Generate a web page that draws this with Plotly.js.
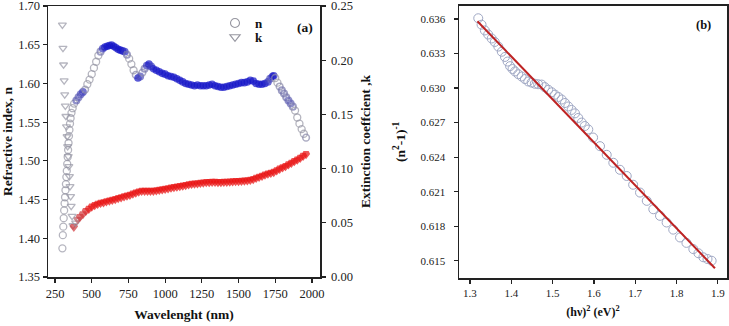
<!DOCTYPE html>
<html>
<head>
<meta charset="utf-8">
<script src="https://cdn.plot.ly/plotly-3.0.1.min.js"></script>
<style>html,body{margin:0;padding:0;background:#fff;}#chart{width:729px;height:326px;}</style>
</head>
<body>
<div id="chart"></div>
<script>
// ---------- Panel (a): refractive index n ----------
const nWavelength = [300,303,306,309,312,315,318,321,324,327,330,333,336,339,342,345,348,352,356,362,370,380,395,410,425,440,455,470,485,500,515,530,545,560,575,590,605,620,635,650,665,680,695,710,725,740,755,770,785,800,815,830,845,860,875,890,905,920,940,960,980,1000,1020,1040,1060,1080,1100,1120,1140,1160,1180,1200,1220,1240,1260,1280,1300,1320,1340,1360,1380,1400,1420,1440,1460,1480,1500,1520,1540,1560,1580,1600,1620,1640,1660,1680,1700,1715,1730,1740,1750,1765,1780,1795,1810,1825,1840,1855,1870,1885,1900,1915,1930,1945,1960];
const nValues = [1.387,1.404,1.415,1.426,1.436,1.445,1.453,1.462,1.470,1.479,1.487,1.496,1.505,1.514,1.523,1.532,1.540,1.548,1.555,1.562,1.568,1.574,1.578,1.582,1.586,1.589,1.592,1.599,1.605,1.612,1.620,1.628,1.636,1.641,1.645,1.647,1.648,1.649,1.6495,1.648,1.646,1.644,1.643,1.642,1.641,1.637,1.632,1.625,1.617,1.611,1.607,1.609,1.614,1.619,1.623,1.625,1.622,1.619,1.617,1.615,1.613,1.612,1.610,1.609,1.608,1.606,1.604,1.602,1.600,1.599,1.598,1.597,1.598,1.597,1.597,1.597,1.598,1.599,1.597,1.596,1.595,1.595,1.596,1.597,1.598,1.599,1.600,1.601,1.601,1.602,1.604,1.603,1.600,1.599,1.599,1.600,1.602,1.606,1.609,1.610,1.607,1.601,1.596,1.591,1.587,1.582,1.578,1.574,1.570,1.565,1.556,1.548,1.541,1.535,1.530];

// ---------- Panel (a): extinction coefficient k ----------
const kWavelength = [300,304,308,312,316,320,324,328,332,336,340,344,348,352,356,360,366,372,378,390,405,420,440,460,480,500,520,540,560,580,600,620,640,660,680,700,720,740,760,780,800,820,840,860,880,900,920,940,960,980,1000,1020,1040,1060,1080,1100,1120,1140,1160,1180,1200,1220,1240,1260,1280,1300,1320,1340,1360,1380,1400,1420,1440,1460,1480,1500,1520,1540,1560,1580,1600,1620,1640,1660,1680,1700,1720,1740,1760,1780,1800,1820,1840,1860,1880,1900,1920,1940,1960];
const kValues = [0.2325,0.2111,0.1958,0.1811,0.1682,0.1578,0.1483,0.1388,0.1296,0.1204,0.1112,0.1020,0.0928,0.0836,0.0744,0.0653,0.0561,0.0475,0.0462,0.050,0.053,0.0555,0.058,0.061,0.063,0.065,0.0665,0.0675,0.0685,0.069,0.070,0.0705,0.0712,0.072,0.073,0.0737,0.0745,0.0753,0.076,0.077,0.078,0.079,0.0795,0.0795,0.0795,0.0795,0.0797,0.080,0.0805,0.081,0.0815,0.082,0.0825,0.083,0.0835,0.084,0.0845,0.085,0.0855,0.086,0.0863,0.0866,0.087,0.0873,0.0876,0.0877,0.0878,0.0878,0.0877,0.0876,0.0878,0.088,0.0882,0.0884,0.0885,0.0886,0.0888,0.089,0.0893,0.0898,0.0905,0.0915,0.0925,0.0935,0.0945,0.0955,0.0962,0.097,0.0985,0.100,0.1012,0.1025,0.104,0.1055,0.107,0.1085,0.110,0.1118,0.1135];

// ---------- Panel (b) ----------
const hv2 = [1.320,1.328,1.336,1.344,1.3525,1.360,1.3686,1.377,1.3847,1.391,1.397,1.403,1.409,1.417,1.425,1.433,1.441,1.449,1.457,1.465,1.4735,1.481,1.4896,1.498,1.5058,1.514,1.522,1.530,1.538,1.546,1.5542,1.562,1.5705,1.578,1.5864,1.598,1.6148,1.631,1.647,1.663,1.6794,1.695,1.7116,1.728,1.7438,1.760,1.776,1.792,1.8085,1.824,1.8407,1.853,1.865,1.875,1.885];
const invN = [0.63606,0.6355,0.6350,0.63465,0.6343,0.6340,0.6336,0.63315,0.6327,0.6323,0.6319,0.63165,0.63144,0.6312,0.6310,0.63078,0.63057,0.63047,0.63037,0.63033,0.6303,0.63008,0.62985,0.62963,0.62942,0.62922,0.6290,0.6287,0.6284,0.6281,0.6278,0.6274,0.6270,0.6267,0.6264,0.6257,0.62495,0.6242,0.62351,0.6229,0.62236,0.6216,0.62092,0.6202,0.61947,0.6189,0.61832,0.6177,0.61702,0.61655,0.61601,0.61565,0.6153,0.61515,0.6150];
const fitX = [1.318,1.893];
const fitY = [0.6358,0.61435];

// tick labels
const waveTicks = [250,500,750,1000,1250,1500,1750,2000];
const nTicks = [1.35,1.40,1.45,1.50,1.55,1.60,1.65,1.70];
const kTicks = [0.00,0.05,0.10,0.15,0.20,0.25];
const hvTicks = [1.3,1.4,1.5,1.6,1.7,1.8,1.9];
const invTicks = [0.615,0.618,0.621,0.624,0.627,0.630,0.633,0.636];

// styling helpers: steep stretches look grey (separate open markers), flat stretches form a saturated band
function blend(c1, c2, t){
  const r = Math.round(c1[0]+(c2[0]-c1[0])*t), g = Math.round(c1[1]+(c2[1]-c1[1])*t), b = Math.round(c1[2]+(c2[2]-c1[2])*t);
  return 'rgb('+r+','+g+','+b+')';
}
function flatness(xs, ys, pxPerX, pxPerY){
  return xs.map((x,i)=>{
    const a = Math.max(0,i-1), b = Math.min(xs.length-1,i+1);
    const dx = (xs[b]-xs[a])*pxPerX, dy = (ys[b]-ys[a])*pxPerY;
    const s = Math.abs(dy/(dx||1e-9));
    return Math.max(0, Math.min(1, (1.9 - s)/(1.9-0.7)));
  });
}
const GREY = [150,150,164];
const nFlat = flatness(nWavelength, nValues, 272/1853, 272/0.35);
const kFlat = flatness(kWavelength, kValues, 272/1853, 272/0.25);
const nColours = nFlat.map(t=>blend(GREY,[22,22,200],t));
const kColours = kFlat.map(t=>blend(GREY,[232,16,16],t));
const nSizes = nFlat.map(t=>7-3*t), nLines = nFlat.map(t=>1.3+2.3*t);
const kSizes = kFlat.map(t=>7-2.5*t), kLines = kFlat.map(t=>1.3+2.4*t);

const serif = 'Liberation Serif, Times New Roman, serif';

const traces = [
  {x: nWavelength, y: nValues, xaxis:'x', yaxis:'y', type:'scatter', mode:'markers', showlegend:false,
   marker:{symbol:'circle-open', size:nSizes, color:nColours, line:{width:nLines}}},
  {x: kWavelength, y: kValues, xaxis:'x', yaxis:'y2', type:'scatter', mode:'markers', showlegend:false,
   marker:{symbol:'triangle-down-open', size:kSizes, color:kColours, line:{width:kLines}}},
  {x:[null], y:[null], xaxis:'x', yaxis:'y', type:'scatter', mode:'markers', name:'<b>n</b>', legend:'legend',
   marker:{symbol:'circle-open', size:9, color:'rgb(150,150,160)', line:{width:1.1}}},
  {x:[null], y:[null], xaxis:'x', yaxis:'y', type:'scatter', mode:'markers', name:'<b>k</b>', legend:'legend2',
   marker:{symbol:'triangle-down-open', size:9, color:'rgb(150,150,160)', line:{width:1.1}}},
  {x: hv2, y: invN, xaxis:'x2', yaxis:'y3', type:'scatter', mode:'markers', showlegend:false,
   marker:{symbol:'circle-open', size:9, color:'rgb(160,168,196)', line:{width:1}}},
  {x: fitX, y: fitY, xaxis:'x2', yaxis:'y3', type:'scatter', mode:'lines', showlegend:false,
   line:{color:'rgb(190,35,35)', width:2}}
];

const axisCommon = {showline:true, linecolor:'#222', linewidth:1.5, ticks:'outside', ticklen:4, tickwidth:1.2, tickcolor:'#222',
  showgrid:false, zeroline:false, tickfont:{family:serif, size:12.5, color:'#222'}, automargin:false, ticklabeloverflow:'allow'};
const smallTick = {family:serif, size:11, color:'#222'};
const titleFont = {family:serif, size:13.5, color:'#111'};
const legendFont = {family:serif, size:13, color:'#111'};

const layout = {
  width:729, height:326, margin:{l:0,r:0,t:0,b:0}, paper_bgcolor:'#fff', plot_bgcolor:'#fff',
  font:{family:serif},
  xaxis: Object.assign({}, axisCommon, {domain:[48/729, 320/729], range:[202,2055], tickvals:waveTicks, ticktext:waveTicks.map(String), mirror:true, anchor:'y',
    title:{text:'<b>Wavelenght (nm)</b>', font:titleFont, standoff:10}}),
  yaxis: Object.assign({}, axisCommon, {domain:[1-277/326, 1-6/326], range:[1.35,1.70], tickvals:nTicks, ticktext:nTicks.map(v=>v.toFixed(2)), anchor:'x',
    title:{text:'<b>Refractive index, n</b>', font:titleFont, standoff:6}}),
  yaxis2: Object.assign({}, axisCommon, {overlaying:'y', side:'right', anchor:'x', range:[0,0.25], tickvals:kTicks, ticktext:kTicks.map(v=>v.toFixed(2)), ticklabelstandoff:3,
    title:{text:'<b>Extinction coeffcient ,k</b>', font:titleFont, standoff:8}}),
  xaxis2: Object.assign({}, axisCommon, {domain:[459/729, 727/729], range:[1.2734,1.9222], tickvals:hvTicks, ticktext:hvTicks.map(v=>v.toFixed(1)), mirror:true, anchor:'y3', tickfont:smallTick,
    title:{text:'<b>(hν)<sup>2</sup> (eV)<sup>2</sup></b>', font:{family:serif, size:12, color:'#111'}, standoff:10}}),
  yaxis3: Object.assign({}, axisCommon, {domain:[1-278/326, 1-5.7/326], range:[0.6135,0.63715], tickvals:invTicks, ticktext:invTicks.map(v=>v.toFixed(3)), mirror:true, anchor:'x2', tickfont:smallTick, ticklabelstandoff:6,
    title:{text:'<b>(n<sup>2</sup>-1)<sup>-1</sup></b>', font:titleFont, standoff:12}}),
  legend:{x:215/729, y:1-8/326, xanchor:'left', yanchor:'top', bgcolor:'rgba(0,0,0,0)', font:legendFont},
  legend2:{x:215/729, y:1-22/326, xanchor:'left', yanchor:'top', bgcolor:'rgba(0,0,0,0)', font:legendFont},
  annotations:[
    {xref:'paper', yref:'paper', x:305/729, y:1-18/326, text:'<b>(a)</b>', showarrow:false, font:{family:serif, size:13.5, color:'#111'}},
    {xref:'paper', yref:'paper', x:713/729, y:1-16/326, text:'<b>(b)</b>', showarrow:false, font:{family:serif, size:12.5, color:'#111'}}
  ]
};

Plotly.newPlot('chart', traces, layout, {displayModeBar:false, staticPlot:true});
</script>
</body>
</html>
